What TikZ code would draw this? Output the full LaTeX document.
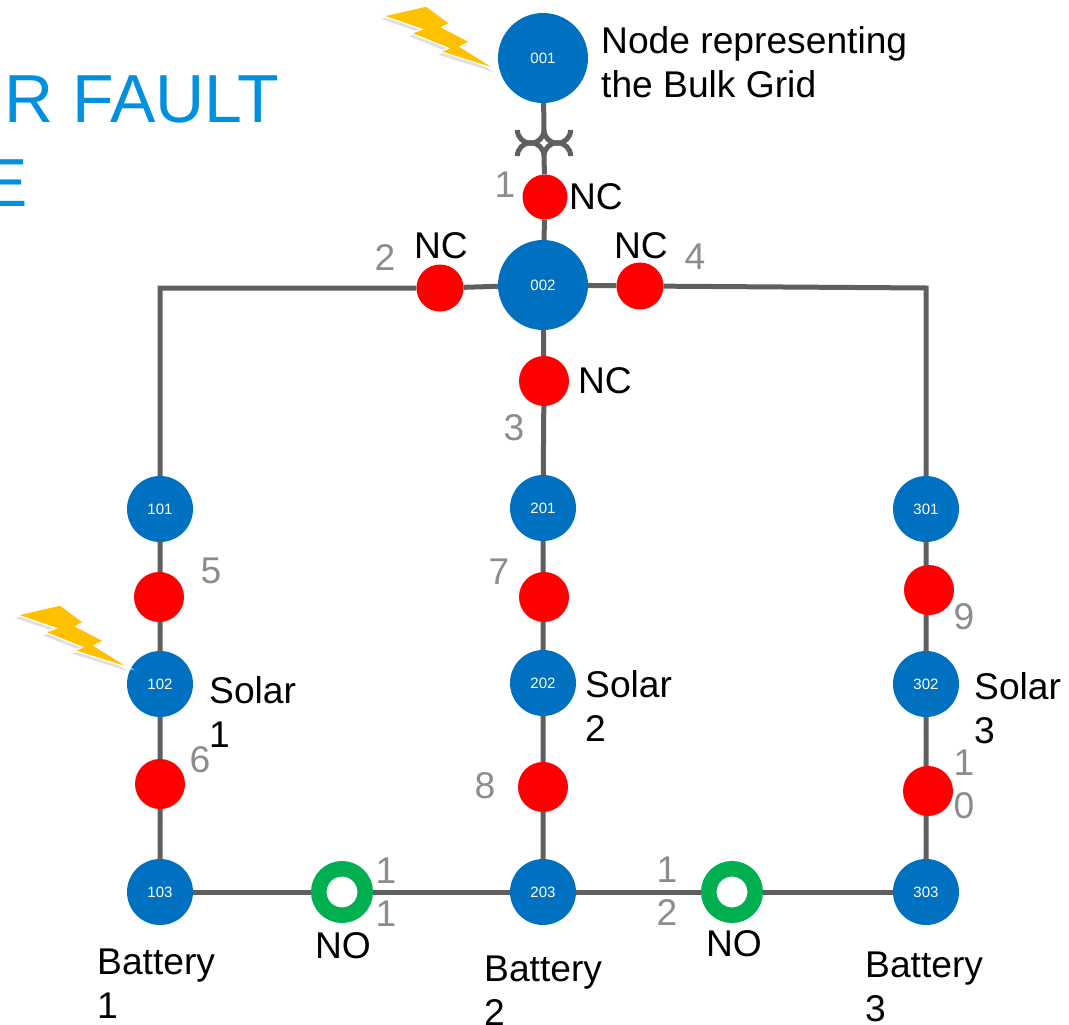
\documentclass[tikz,border=0pt]{standalone}
\usepackage{fontspec}
\setmainfont{Liberation Sans}
\usetikzlibrary{shadows}
\pgfdeclarelayer{wires}
\pgfsetlayers{wires,main}
\definecolor{busblue}{RGB}{0,112,192}
\definecolor{titleblue}{RGB}{0,144,223}
\definecolor{linegray}{RGB}{95,95,95}
\definecolor{numgray}{RGB}{140,140,140}
\definecolor{nogreen}{RGB}{0,176,80}
\definecolor{boltyellow}{RGB}{255,192,0}
\tikzset{
    bus/.style={circle,fill=busblue,text=white,inner sep=0pt,minimum size=#1,font=\fontsize{15}{15}\selectfont},
    bus/.default=66,
    closedsw/.style={circle,fill=red,inner sep=0pt,minimum size=50},
    opensw/.style={circle,draw=nogreen,fill=white,line width=15.5,inner sep=0pt,minimum size=46.5},
    wire/.style={draw=linegray,line width=5},
    lbl/.style={inner sep=0pt,font=\fontsize{37.2}{44}\selectfont,align=left},
    num/.style={inner sep=0pt,text=numgray,font=\fontsize{37.2}{44}\selectfont},
    titletxt/.style={anchor=base east,inner sep=0pt,text=titleblue,font=\fontsize{68}{68}\selectfont},
    bolt/.pic={
        \fill[boltyellow,draw=white,line width=1.2pt,drop shadow={shadow xshift=-2pt,shadow yshift=-3pt,opacity=0.25}]
            (0,0) -- (43.3,-10) -- (66.6,7.3) -- (59,11.3) -- (86.6,25.7) -- (77.3,30.7)
            -- (113.3,53.3) -- (57.3,35.7) -- (65.6,32.3) -- (28,17.3) -- (39,13.3) -- cycle;
    }
}
\begin{document}
\begin{tikzpicture}[x=1pt,y=-1pt]
    \useasboundingbox (0,0) rectangle (1069,1025);
    % buses
    \node[bus=90] (n001) at (543,58) {001};
    \node[bus=90] (n002) at (543,285) {002};
    \node[bus] (n101) at (160,509) {101};
    \node[bus] (n102) at (160,684) {102};
    \node[bus] (n103) at (160,892) {103};
    \node[bus] (n201) at (543,508) {201};
    \node[bus] (n202) at (543,683) {202};
    \node[bus] (n203) at (543,892) {203};
    \node[bus] (n301) at (926,509) {301};
    \node[bus] (n302) at (926,684) {302};
    \node[bus] (n303) at (926,892) {303};
    % switches
    \node[closedsw,minimum size=45] (s1) at (545,197) {};
    \node[closedsw,minimum size=47] (s2) at (440,288) {};
    \node[closedsw] (s3) at (544,381) {};
    \node[closedsw,minimum size=47] (s4) at (640,286) {};
    \node[closedsw] (s5) at (159,597) {};
    \node[closedsw] (s6) at (160,784) {};
    \node[closedsw] (s7) at (544,597) {};
    \node[closedsw] (s8) at (543,787) {};
    \node[closedsw] (s9) at (929,590) {};
    \node[closedsw] (s10) at (928,791) {};
    \node[opensw] (s11) at (342,892) {};
    \node[opensw] (s12) at (732,892) {};
    % corners of the feeders
    \coordinate (c1) at (160,288);
    \coordinate (c2) at (926,288);
    \coordinate (t1) at (544,130);
    \coordinate (t2) at (544,156);
    % wires
    \begin{pgfonlayer}{wires}
        \draw[wire] (n001) -- (t1);
        \draw[wire] (t2) -- (s1) -- (n002) -- (s3) -- (n201) -- (n202) -- (n203);
        \draw[wire] (n002) -- (s2) -- (c1) -- (n101) -- (n102) -- (n103);
        \draw[wire] (n002) -- (s4) -- (c2) -- (n301) -- (n302) -- (n303);
        \draw[wire] (n103) -- (s11) -- (n203) -- (s12) -- (n303);
    \end{pgfonlayer}
    % transformer
    \draw[wire] (t1) arc[start angle=0,end angle=180,radius=13.3];
    \draw[wire] (t1) arc[start angle=180,end angle=0,radius=13.3];
    \draw[wire] (t2) arc[start angle=0,end angle=-180,radius=13.3];
    \draw[wire] (t2) arc[start angle=180,end angle=360,radius=13.3];
    % bolts
    \pic at (383,16) {bolt};
    \pic at (17,615) {bolt};
    % title, cut by the page edge
    \node[titletxt] (title1) at (279,122) {R FAULT};
    \node[titletxt] (title2) at (28,206) {E};
    % labels
    \node[lbl,anchor=north west] (grid) at (601,26) {Node representing\\the Bulk Grid};
    \node[lbl] (nc1) at (596,197) {NC};
    \node[lbl] (nc2) at (441,246) {NC};
    \node[lbl] (nc4) at (641,246) {NC};
    \node[lbl] (nc3) at (605,381) {NC};
    \node[lbl,anchor=north west] (sol1) at (209,676) {Solar\\1};
    \node[lbl,anchor=north west] (sol2) at (585,670) {Solar\\2};
    \node[lbl,anchor=north west] (sol3) at (974,672) {Solar\\3};
    \node[lbl,anchor=north west] (bat1) at (97,949) {Battery\\1};
    \node[lbl,anchor=north west] (bat2) at (484,956) {Battery\\2};
    \node[lbl,anchor=north west] (bat3) at (865,952) {Battery\\3};
    \node[lbl] (no1) at (343,946) {NO};
    \node[lbl] (no2) at (734,944) {NO};
    % branch numbers
    \node[num] (b1) at (505,185) {1};
    \node[num] (b2) at (385,258) {2};
    \node[num] (b3) at (514,428) {3};
    \node[num] (b4) at (695,257) {4};
    \node[num] (b5) at (211,571) {5};
    \node[num] (b6) at (200,760) {6};
    \node[num] (b7) at (499,572) {7};
    \node[num] (b8) at (485,786) {8};
    \node[num] (b9) at (964,617) {9};
    \node[num] (b10a) at (964,763) {1};
    \node[num] (b10b) at (964,806) {0};
    \node[num] (b11a) at (386,871) {1};
    \node[num] (b11b) at (386,914) {1};
    \node[num] (b12a) at (667,870) {1};
    \node[num] (b12b) at (667,913) {2};
\end{tikzpicture}
\end{document}
